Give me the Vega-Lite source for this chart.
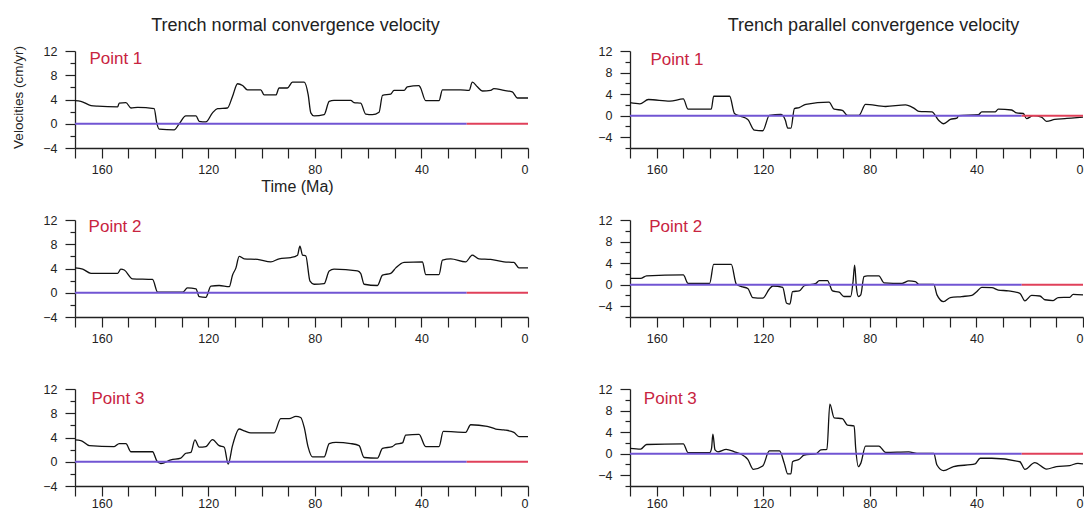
{
  "$schema": "https://vega.github.io/schema/vega-lite/v6.json",
  "background": "white",
  "padding": {"left": 11, "top": 17, "right": 0, "bottom": 0},
  "autosize": {"type": "pad"},
  "config": {
    "font": "Liberation Sans",
    "view": {"stroke": null},
    "axis": {"grid": false, "domainColor": "#222", "tickColor": "#222", "domainWidth": 1.3, "tickWidth": 1.2, "labelColor": "#222", "labelFontSize": 12.5, "labelOverlap": false, "titleFontWeight": "normal", "titleColor": "#222", "tickCount": 40, "format": "d"},
    "title": {"fontSize": 18, "fontWeight": "normal", "color": "#222", "offset": 10}
  },
  "datasets": {
    "vel": [
      {"panel":"n1","t":170,"v":3.8},{"panel":"n1","t":167.8,"v":3.7},{"panel":"n1","t":164,"v":3.0},{"panel":"n1","t":161.5,"v":2.9},{"panel":"n1","t":154,"v":2.8},{"panel":"n1","t":153.4,"v":3.4},{"panel":"n1","t":150.9,"v":3.5},{"panel":"n1","t":149,"v":2.6},{"panel":"n1","t":146.5,"v":2.7},{"panel":"n1","t":140.3,"v":2.5},{"panel":"n1","t":139.3,"v":0.1},{"panel":"n1","t":138.4,"v":-0.9},{"panel":"n1","t":132.8,"v":-1.0},{"panel":"n1","t":130.9,"v":0},{"panel":"n1","t":128.4,"v":1.3},{"panel":"n1","t":124.6,"v":1.3},{"panel":"n1","t":123.4,"v":0.4},{"panel":"n1","t":120.9,"v":0.3},{"panel":"n1","t":118.4,"v":1.8},{"panel":"n1","t":116.5,"v":2.5},{"panel":"n1","t":112.8,"v":2.6},{"panel":"n1","t":110.9,"v":4.5},{"panel":"n1","t":109,"v":6.6},{"panel":"n1","t":107.1,"v":6.3},{"panel":"n1","t":105.3,"v":5.6},{"panel":"n1","t":100.3,"v":5.6},{"panel":"n1","t":99,"v":4.75},{"panel":"n1","t":94.6,"v":4.75},{"panel":"n1","t":93.4,"v":5.9},{"panel":"n1","t":90.3,"v":5.9},{"panel":"n1","t":88.4,"v":6.85},{"panel":"n1","t":84,"v":6.85},{"panel":"n1","t":82.5,"v":4.8},{"panel":"n1","t":81.5,"v":1.8},{"panel":"n1","t":80.3,"v":1.3},{"panel":"n1","t":76.5,"v":1.5},{"panel":"n1","t":74.6,"v":3.7},{"panel":"n1","t":72.8,"v":3.85},{"panel":"n1","t":66.5,"v":3.85},{"panel":"n1","t":65.3,"v":3.5},{"panel":"n1","t":62.8,"v":3.4},{"panel":"n1","t":60.9,"v":1.6},{"panel":"n1","t":58.4,"v":1.5},{"panel":"n1","t":55.9,"v":1.9},{"panel":"n1","t":54.6,"v":4.7},{"panel":"n1","t":51.5,"v":4.9},{"panel":"n1","t":50.3,"v":5.5},{"panel":"n1","t":46.5,"v":5.5},{"panel":"n1","t":45.3,"v":6.1},{"panel":"n1","t":40.9,"v":6.3},{"panel":"n1","t":40.3,"v":5.9},{"panel":"n1","t":38.4,"v":3.8},{"panel":"n1","t":33.4,"v":3.8},{"panel":"n1","t":32.1,"v":5.6},{"panel":"n1","t":25.3,"v":5.6},{"panel":"n1","t":22.1,"v":5.5},{"panel":"n1","t":20.9,"v":6.85},{"panel":"n1","t":19,"v":6.1},{"panel":"n1","t":17.1,"v":5.4},{"panel":"n1","t":14,"v":5.5},{"panel":"n1","t":12.8,"v":5.8},{"panel":"n1","t":9,"v":5.5},{"panel":"n1","t":5.9,"v":5.25},{"panel":"n1","t":4,"v":4.25},{"panel":"n1","t":0,"v":4.25},
      {"panel":"n2","t":170,"v":4.1},{"panel":"n2","t":167.1,"v":3.9},{"panel":"n2","t":164,"v":3.2},{"panel":"n2","t":154,"v":3.2},{"panel":"n2","t":152.8,"v":3.9},{"panel":"n2","t":151.5,"v":3.75},{"panel":"n2","t":148.4,"v":2.3},{"panel":"n2","t":140.9,"v":2.2},{"panel":"n2","t":139,"v":0.1},{"panel":"n2","t":129.6,"v":0.1},{"panel":"n2","t":127.8,"v":0.8},{"panel":"n2","t":124.6,"v":0.65},{"panel":"n2","t":123.4,"v":-0.65},{"panel":"n2","t":120.9,"v":-0.75},{"panel":"n2","t":119,"v":1.1},{"panel":"n2","t":115.9,"v":1.2},{"panel":"n2","t":112.1,"v":1.0},{"panel":"n2","t":110.9,"v":2.9},{"panel":"n2","t":109.6,"v":4.1},{"panel":"n2","t":108.4,"v":6.0},{"panel":"n2","t":106.5,"v":5.6},{"panel":"n2","t":101.5,"v":5.5},{"panel":"n2","t":96.5,"v":5.1},{"panel":"n2","t":93.4,"v":5.6},{"panel":"n2","t":89,"v":5.8},{"panel":"n2","t":86.5,"v":6.2},{"panel":"n2","t":85.6,"v":7.7},{"panel":"n2","t":84.6,"v":6.2},{"panel":"n2","t":83.4,"v":6.1},{"panel":"n2","t":81.8,"v":1.9},{"panel":"n2","t":80.3,"v":1.4},{"panel":"n2","t":76.5,"v":1.5},{"panel":"n2","t":74.6,"v":3.6},{"panel":"n2","t":72.8,"v":3.9},{"panel":"n2","t":64,"v":3.6},{"panel":"n2","t":62.8,"v":3.2},{"panel":"n2","t":61.5,"v":1.4},{"panel":"n2","t":56.5,"v":1.2},{"panel":"n2","t":54.6,"v":2.9},{"panel":"n2","t":51.5,"v":3.2},{"panel":"n2","t":49.6,"v":4.1},{"panel":"n2","t":46.5,"v":5.0},{"panel":"n2","t":39.6,"v":5.1},{"panel":"n2","t":38.4,"v":3.0},{"panel":"n2","t":33.4,"v":3.0},{"panel":"n2","t":32.1,"v":5.4},{"panel":"n2","t":29,"v":5.6},{"panel":"n2","t":23.4,"v":5.1},{"panel":"n2","t":20.9,"v":6.2},{"panel":"n2","t":18.4,"v":5.6},{"panel":"n2","t":14,"v":5.5},{"panel":"n2","t":9,"v":5.1},{"panel":"n2","t":5.3,"v":5.0},{"panel":"n2","t":3.4,"v":4.1},{"panel":"n2","t":0,"v":4.1},
      {"panel":"n3","t":170,"v":3.6},{"panel":"n3","t":167.8,"v":3.5},{"panel":"n3","t":164.6,"v":2.65},{"panel":"n3","t":155.3,"v":2.5},{"panel":"n3","t":153.4,"v":3.0},{"panel":"n3","t":150.9,"v":3.0},{"panel":"n3","t":149,"v":1.65},{"panel":"n3","t":140.9,"v":1.65},{"panel":"n3","t":139.3,"v":0.15},{"panel":"n3","t":137.8,"v":-0.3},{"panel":"n3","t":134,"v":0.3},{"panel":"n3","t":130.3,"v":0.6},{"panel":"n3","t":128.4,"v":1.4},{"panel":"n3","t":126.5,"v":1.55},{"panel":"n3","t":125,"v":3.6},{"panel":"n3","t":123.4,"v":2.4},{"panel":"n3","t":120.9,"v":2.5},{"panel":"n3","t":118.4,"v":3.65},{"panel":"n3","t":115.9,"v":2.65},{"panel":"n3","t":114,"v":2.4},{"panel":"n3","t":112.5,"v":-0.4},{"panel":"n3","t":110.9,"v":2.65},{"panel":"n3","t":108.4,"v":5.4},{"panel":"n3","t":106.5,"v":5.1},{"panel":"n3","t":104,"v":4.75},{"panel":"n3","t":95.3,"v":4.75},{"panel":"n3","t":92.8,"v":7.1},{"panel":"n3","t":89.6,"v":7.1},{"panel":"n3","t":87.1,"v":7.5},{"panel":"n3","t":85.3,"v":7.3},{"panel":"n3","t":84,"v":5.7},{"panel":"n3","t":82.5,"v":2.4},{"panel":"n3","t":80.9,"v":0.8},{"panel":"n3","t":76.5,"v":0.8},{"panel":"n3","t":74.6,"v":3.0},{"panel":"n3","t":72.1,"v":3.2},{"panel":"n3","t":66.5,"v":3.0},{"panel":"n3","t":63.4,"v":2.65},{"panel":"n3","t":61.5,"v":0.7},{"panel":"n3","t":56.5,"v":0.6},{"panel":"n3","t":54.6,"v":2.2},{"panel":"n3","t":50.9,"v":2.5},{"panel":"n3","t":49.6,"v":2.9},{"panel":"n3","t":47.1,"v":3.1},{"panel":"n3","t":45.9,"v":4.4},{"panel":"n3","t":40.9,"v":4.5},{"panel":"n3","t":38.4,"v":2.5},{"panel":"n3","t":33.4,"v":2.5},{"panel":"n3","t":31.8,"v":5.0},{"panel":"n3","t":23.4,"v":4.85},{"panel":"n3","t":21.5,"v":6.1},{"panel":"n3","t":15.3,"v":5.85},{"panel":"n3","t":12.1,"v":5.4},{"panel":"n3","t":9,"v":5.25},{"panel":"n3","t":5.3,"v":4.85},{"panel":"n3","t":3.4,"v":4.15},{"panel":"n3","t":0,"v":4.15},
      {"panel":"p1","t":170,"v":2.4},{"panel":"p1","t":166.3,"v":2.2},{"panel":"p1","t":163.1,"v":3.0},{"panel":"p1","t":155,"v":2.7},{"panel":"p1","t":150,"v":3.1},{"panel":"p1","t":148.2,"v":1.2},{"panel":"p1","t":139.5,"v":1.2},{"panel":"p1","t":138.6,"v":3.6},{"panel":"p1","t":132.6,"v":3.6},{"panel":"p1","t":130.8,"v":0.4},{"panel":"p1","t":128.9,"v":-0.05},{"panel":"p1","t":125.8,"v":-0.7},{"panel":"p1","t":123.3,"v":-2.7},{"panel":"p1","t":120.2,"v":-2.8},{"panel":"p1","t":117.7,"v":0.05},{"panel":"p1","t":113.3,"v":0.25},{"panel":"p1","t":111.7,"v":-0.85},{"panel":"p1","t":110.8,"v":-2.3},{"panel":"p1","t":109.6,"v":-2.3},{"panel":"p1","t":108.3,"v":1.3},{"panel":"p1","t":106.5,"v":1.5},{"panel":"p1","t":104,"v":2.1},{"panel":"p1","t":95.3,"v":2.5},{"panel":"p1","t":93.4,"v":1.2},{"panel":"p1","t":90.3,"v":1.0},{"panel":"p1","t":88.4,"v":0.05},{"panel":"p1","t":84.1,"v":0.05},{"panel":"p1","t":81.6,"v":2.1},{"panel":"p1","t":74.1,"v":1.7},{"panel":"p1","t":66.6,"v":2.0},{"panel":"p1","t":63.5,"v":1.4},{"panel":"p1","t":61.6,"v":0.8},{"panel":"p1","t":56.7,"v":0.7},{"panel":"p1","t":54.2,"v":-0.85},{"panel":"p1","t":52.3,"v":-1.5},{"panel":"p1","t":49.8,"v":-0.7},{"panel":"p1","t":47.3,"v":-0.45},{"panel":"p1","t":46.7,"v":0},{"panel":"p1","t":39.2,"v":0.2},{"panel":"p1","t":38,"v":0.7},{"panel":"p1","t":33,"v":0.7},{"panel":"p1","t":31.8,"v":1.2},{"panel":"p1","t":26.8,"v":1.05},{"panel":"p1","t":24.9,"v":0.5},{"panel":"p1","t":22.4,"v":0.4},{"panel":"p1","t":21.2,"v":-0.55},{"panel":"p1","t":18.7,"v":0},{"panel":"p1","t":15.6,"v":-0.25},{"panel":"p1","t":13.7,"v":-1.05},{"panel":"p1","t":10.6,"v":-0.7},{"panel":"p1","t":6.8,"v":-0.55},{"panel":"p1","t":4.4,"v":-0.45},{"panel":"p1","t":0,"v":-0.25},
      {"panel":"p2","t":170,"v":1.15},{"panel":"p2","t":166,"v":1.15},{"panel":"p2","t":163.8,"v":1.65},{"panel":"p2","t":150,"v":1.8},{"panel":"p2","t":148.2,"v":0.25},{"panel":"p2","t":140.1,"v":0.25},{"panel":"p2","t":138.6,"v":3.75},{"panel":"p2","t":132,"v":3.75},{"panel":"p2","t":130.1,"v":0.1},{"panel":"p2","t":128.2,"v":-0.35},{"panel":"p2","t":125.8,"v":-0.7},{"panel":"p2","t":123.9,"v":-2.4},{"panel":"p2","t":120.2,"v":-2.5},{"panel":"p2","t":117.7,"v":-0.8},{"panel":"p2","t":116.4,"v":-0.25},{"panel":"p2","t":112.7,"v":-0.5},{"panel":"p2","t":111.2,"v":-3.45},{"panel":"p2","t":110,"v":-3.6},{"panel":"p2","t":109,"v":-1.3},{"panel":"p2","t":106.5,"v":-1.15},{"panel":"p2","t":104.6,"v":-0.2},{"panel":"p2","t":100.2,"v":0.25},{"panel":"p2","t":99,"v":0.75},{"panel":"p2","t":95.9,"v":0.75},{"panel":"p2","t":94,"v":-1.15},{"panel":"p2","t":91.5,"v":-1.4},{"panel":"p2","t":89.7,"v":-2.2},{"panel":"p2","t":87.2,"v":-2.2},{"panel":"p2","t":86.3,"v":0.55},{"panel":"p2","t":85.7,"v":3.6},{"panel":"p2","t":85,"v":-0.7},{"panel":"p2","t":84.3,"v":-2.2},{"panel":"p2","t":83.4,"v":-1.9},{"panel":"p2","t":82.2,"v":1.5},{"panel":"p2","t":80.9,"v":1.65},{"panel":"p2","t":76.6,"v":1.65},{"panel":"p2","t":74.7,"v":0.35},{"panel":"p2","t":67.9,"v":0.25},{"panel":"p2","t":65.4,"v":0.7},{"panel":"p2","t":62.9,"v":0.55},{"panel":"p2","t":61.6,"v":0.05},{"panel":"p2","t":56,"v":0.05},{"panel":"p2","t":54.8,"v":-1.9},{"panel":"p2","t":52.3,"v":-3.15},{"panel":"p2","t":49.8,"v":-2.4},{"panel":"p2","t":45.5,"v":-2.2},{"panel":"p2","t":41.7,"v":-2.0},{"panel":"p2","t":39.9,"v":-1.3},{"panel":"p2","t":38,"v":-0.5},{"panel":"p2","t":34.2,"v":-0.55},{"panel":"p2","t":31.8,"v":-1.0},{"panel":"p2","t":28,"v":-1.15},{"panel":"p2","t":23.7,"v":-1.6},{"panel":"p2","t":21.8,"v":-3.0},{"panel":"p2","t":19.3,"v":-2.0},{"panel":"p2","t":16.2,"v":-2.1},{"panel":"p2","t":14.3,"v":-2.8},{"panel":"p2","t":11.2,"v":-2.95},{"panel":"p2","t":9.3,"v":-2.4},{"panel":"p2","t":5,"v":-2.35},{"panel":"p2","t":3.7,"v":-1.8},{"panel":"p2","t":0,"v":-1.9},
      {"panel":"p3","t":170,"v":1.0},{"panel":"p3","t":166,"v":0.85},{"panel":"p3","t":163.8,"v":1.7},{"panel":"p3","t":150,"v":1.8},{"panel":"p3","t":148.2,"v":0.2},{"panel":"p3","t":140.1,"v":0.2},{"panel":"p3","t":139.4,"v":1.0},{"panel":"p3","t":138.9,"v":3.6},{"panel":"p3","t":138.1,"v":0.7},{"panel":"p3","t":137,"v":0.35},{"panel":"p3","t":133.9,"v":0.8},{"panel":"p3","t":130.8,"v":0.35},{"panel":"p3","t":128.3,"v":-0.1},{"panel":"p3","t":125.8,"v":-1.05},{"panel":"p3","t":123.7,"v":-2.9},{"panel":"p3","t":120.2,"v":-2.3},{"panel":"p3","t":117.7,"v":0.5},{"panel":"p3","t":113.9,"v":0.5},{"panel":"p3","t":112.1,"v":-1.8},{"panel":"p3","t":110.8,"v":-3.75},{"panel":"p3","t":109.6,"v":-3.75},{"panel":"p3","t":109,"v":-1.5},{"panel":"p3","t":106.5,"v":-1.05},{"panel":"p3","t":104.6,"v":-0.25},{"panel":"p3","t":100.2,"v":-0.05},{"panel":"p3","t":98.4,"v":0.7},{"panel":"p3","t":96.1,"v":0.8},{"panel":"p3","t":95,"v":9.2},{"panel":"p3","t":93.4,"v":6.65},{"panel":"p3","t":90.3,"v":6.5},{"panel":"p3","t":88.4,"v":5.3},{"panel":"p3","t":85.9,"v":5.15},{"panel":"p3","t":85.3,"v":1.0},{"panel":"p3","t":84.3,"v":-2.4},{"panel":"p3","t":83.4,"v":-1.8},{"panel":"p3","t":81.6,"v":1.4},{"panel":"p3","t":76.6,"v":1.4},{"panel":"p3","t":74.1,"v":0.25},{"panel":"p3","t":65.4,"v":0.35},{"panel":"p3","t":62.3,"v":0.05},{"panel":"p3","t":56,"v":0.05},{"panel":"p3","t":54.8,"v":-2.1},{"panel":"p3","t":52.3,"v":-3.15},{"panel":"p3","t":48.6,"v":-2.4},{"panel":"p3","t":40.5,"v":-1.9},{"panel":"p3","t":38.6,"v":-0.85},{"panel":"p3","t":34.2,"v":-0.85},{"panel":"p3","t":23.7,"v":-1.5},{"panel":"p3","t":21.8,"v":-2.9},{"panel":"p3","t":18.1,"v":-1.65},{"panel":"p3","t":13.7,"v":-2.85},{"panel":"p3","t":10,"v":-2.4},{"panel":"p3","t":5,"v":-2.2},{"panel":"p3","t":1.9,"v":-1.8},{"panel":"p3","t":0,"v":-1.9}
    ],
    "zero": [
      {"seg": "older", "t0": 170, "t1": 23},
      {"seg": "recent", "t0": 23, "t1": 0}
    ],
    "labels": [
      {"panel": "n1", "label": "Point 1"}, {"panel": "n2", "label": "Point 2"}, {"panel": "n3", "label": "Point 3"},
      {"panel": "p1", "label": "Point 1"}, {"panel": "p2", "label": "Point 2"}, {"panel": "p3", "label": "Point 3"}
    ]
  },
  "spacing": 66,
  "hconcat": [
    {
      "spacing": 72, "bounds": "flush",
      "vconcat": [
        {
          "width": 453, "height": 97,
          "title": {"text": "Trench normal convergence velocity", "dx": -6},
          "layer": [
            {"data": {"name": "vel"}, "transform": [{"filter": "datum.panel === 'n1'"}],
             "mark": {"type": "line", "color": "#111", "strokeWidth": 1.3, "interpolate": "monotone"},
             "encoding": {
               "x": {"field": "t", "type": "quantitative", "scale": {"domain": [0, 170], "reverse": true, "nice": false, "zero": false},
                     "axis": {"title": "Time (Ma)", "titleFontSize": 16, "titlePadding": 3, "titleX": 222, "tickCount": 40, "format": "d", "labelOverlap": false, "values": [0,10,20,30,40,50,60,70,80,90,100,110,120,130,140,150,160,170], "labelExpr": "datum.value % 40 === 0 ? datum.label : ''", "tickSize": 10, "labelPadding": 5}},
               "y": {"field": "v", "type": "quantitative", "scale": {"domain": [-4, 12], "nice": false, "zero": false},
                     "axis": {"title": "Velocities (cm/yr)", "titleFontSize": 13.5, "titlePadding": 17, "titleY": 46, "tickCount": 40, "format": "d", "labelOverlap": false, "values": [-4,-2,0,2,4,6,8,10,12], "labelExpr": "datum.value % 4 === 0 ? datum.label : ''", "tickSize": {"condition": {"test": "datum.value % 4 === 0", "value": 10}, "value": 5}, "labelPadding": 8}}
             }},
            {"data": {"name": "zero"}, "mark": {"type": "rule", "strokeWidth": 2},
             "encoding": {"x": {"field": "t0", "type": "quantitative"}, "x2": {"field": "t1"}, "y": {"datum": 0, "type": "quantitative"},
                          "color": {"field": "seg", "type": "nominal", "scale": {"domain": ["older", "recent"], "range": ["#7155d3", "#e0405a"]}, "legend": null}}},
            {"data": {"name": "labels"}, "transform": [{"filter": "datum.panel === 'n1'"}],
             "mark": {"type": "text", "align": "left", "baseline": "middle", "fontSize": 17, "color": "#c8243f"},
             "encoding": {"x": {"datum": 164.6, "type": "quantitative"}, "y": {"datum": 10.6, "type": "quantitative"}, "text": {"field": "label"}}}
          ]
        },
        {
          "width": 453, "height": 97,
          "layer": [
            {"data": {"name": "vel"}, "transform": [{"filter": "datum.panel === 'n2'"}],
             "mark": {"type": "line", "color": "#111", "strokeWidth": 1.3, "interpolate": "monotone"},
             "encoding": {
               "x": {"field": "t", "type": "quantitative", "scale": {"domain": [0, 170], "reverse": true, "nice": false, "zero": false},
                     "axis": {"title": null, "tickCount": 40, "format": "d", "labelOverlap": false, "values": [0,10,20,30,40,50,60,70,80,90,100,110,120,130,140,150,160,170], "labelExpr": "datum.value % 40 === 0 ? datum.label : ''", "tickSize": 10, "labelPadding": 5}},
               "y": {"field": "v", "type": "quantitative", "scale": {"domain": [-4, 12], "nice": false, "zero": false},
                     "axis": {"title": null, "tickCount": 40, "format": "d", "labelOverlap": false, "values": [-4,-2,0,2,4,6,8,10,12], "labelExpr": "datum.value % 4 === 0 ? datum.label : ''", "tickSize": {"condition": {"test": "datum.value % 4 === 0", "value": 10}, "value": 5}, "labelPadding": 8}}
             }},
            {"data": {"name": "zero"}, "mark": {"type": "rule", "strokeWidth": 2},
             "encoding": {"x": {"field": "t0", "type": "quantitative"}, "x2": {"field": "t1"}, "y": {"datum": 0, "type": "quantitative"},
                          "color": {"field": "seg", "type": "nominal", "scale": {"domain": ["older", "recent"], "range": ["#7155d3", "#e0405a"]}, "legend": null}}},
            {"data": {"name": "labels"}, "transform": [{"filter": "datum.panel === 'n2'"}],
             "mark": {"type": "text", "align": "left", "baseline": "middle", "fontSize": 17, "color": "#c8243f"},
             "encoding": {"x": {"datum": 164.9, "type": "quantitative"}, "y": {"datum": 10.8, "type": "quantitative"}, "text": {"field": "label"}}}
          ]
        },
        {
          "width": 453, "height": 97,
          "layer": [
            {"data": {"name": "vel"}, "transform": [{"filter": "datum.panel === 'n3'"}],
             "mark": {"type": "line", "color": "#111", "strokeWidth": 1.3, "interpolate": "monotone"},
             "encoding": {
               "x": {"field": "t", "type": "quantitative", "scale": {"domain": [0, 170], "reverse": true, "nice": false, "zero": false},
                     "axis": {"title": null, "tickCount": 40, "format": "d", "labelOverlap": false, "values": [0,10,20,30,40,50,60,70,80,90,100,110,120,130,140,150,160,170], "labelExpr": "datum.value % 40 === 0 ? datum.label : ''", "tickSize": 10, "labelPadding": 1}},
               "y": {"field": "v", "type": "quantitative", "scale": {"domain": [-4, 12], "nice": false, "zero": false},
                     "axis": {"title": null, "tickCount": 40, "format": "d", "labelOverlap": false, "values": [-4,-2,0,2,4,6,8,10,12], "labelExpr": "datum.value % 4 === 0 ? datum.label : ''", "tickSize": {"condition": {"test": "datum.value % 4 === 0", "value": 10}, "value": 5}, "labelPadding": 8}}
             }},
            {"data": {"name": "zero"}, "mark": {"type": "rule", "strokeWidth": 2},
             "encoding": {"x": {"field": "t0", "type": "quantitative"}, "x2": {"field": "t1"}, "y": {"datum": 0, "type": "quantitative"},
                          "color": {"field": "seg", "type": "nominal", "scale": {"domain": ["older", "recent"], "range": ["#7155d3", "#e0405a"]}, "legend": null}}},
            {"data": {"name": "labels"}, "transform": [{"filter": "datum.panel === 'n3'"}],
             "mark": {"type": "text", "align": "left", "baseline": "middle", "fontSize": 17, "color": "#c8243f"},
             "encoding": {"x": {"datum": 163.8, "type": "quantitative"}, "y": {"datum": 10.3, "type": "quantitative"}, "text": {"field": "label"}}}
          ]
        }
      ]
    },
    {
      "spacing": 72, "bounds": "flush",
      "vconcat": [
        {
          "width": 453, "height": 97,
          "title": {"text": "Trench parallel convergence velocity", "dx": 17},
          "layer": [
            {"data": {"name": "vel"}, "transform": [{"filter": "datum.panel === 'p1'"}],
             "mark": {"type": "line", "color": "#111", "strokeWidth": 1.3, "interpolate": "monotone"},
             "encoding": {
               "x": {"field": "t", "type": "quantitative", "scale": {"domain": [0, 170], "reverse": true, "nice": false, "zero": false},
                     "axis": {"title": null, "tickCount": 40, "format": "d", "labelOverlap": false, "values": [0,10,20,30,40,50,60,70,80,90,100,110,120,130,140,150,160,170], "labelExpr": "datum.value % 40 === 0 ? datum.label : ''", "tickSize": 10, "labelPadding": 5, "labelFlush": true}},
               "y": {"field": "v", "type": "quantitative", "scale": {"domain": [-6, 12], "nice": false, "zero": false},
                     "axis": {"title": null, "tickCount": 40, "format": "d", "labelOverlap": false, "values": [-6,-4,-2,0,2,4,6,8,10,12], "labelExpr": "datum.value % 4 === 0 ? datum.label : ''", "tickSize": {"condition": {"test": "datum.value % 4 === 0", "value": 10}, "value": 5}, "labelPadding": 8}}
             }},
            {"data": {"name": "zero"}, "mark": {"type": "rule", "strokeWidth": 2},
             "encoding": {"x": {"field": "t0", "type": "quantitative"}, "x2": {"field": "t1"}, "y": {"datum": 0, "type": "quantitative"},
                          "color": {"field": "seg", "type": "nominal", "scale": {"domain": ["older", "recent"], "range": ["#6a55d8", "#e0405a"]}, "legend": null}}},
            {"data": {"name": "labels"}, "transform": [{"filter": "datum.panel === 'p1'"}],
             "mark": {"type": "text", "align": "left", "baseline": "middle", "fontSize": 17, "color": "#c8243f"},
             "encoding": {"x": {"datum": 162.3, "type": "quantitative"}, "y": {"datum": 10.4, "type": "quantitative"}, "text": {"field": "label"}}}
          ]
        },
        {
          "width": 453, "height": 97,
          "layer": [
            {"data": {"name": "vel"}, "transform": [{"filter": "datum.panel === 'p2'"}],
             "mark": {"type": "line", "color": "#111", "strokeWidth": 1.3, "interpolate": "monotone"},
             "encoding": {
               "x": {"field": "t", "type": "quantitative", "scale": {"domain": [0, 170], "reverse": true, "nice": false, "zero": false},
                     "axis": {"title": null, "tickCount": 40, "format": "d", "labelOverlap": false, "values": [0,10,20,30,40,50,60,70,80,90,100,110,120,130,140,150,160,170], "labelExpr": "datum.value % 40 === 0 ? datum.label : ''", "tickSize": 10, "labelPadding": 5, "labelFlush": true}},
               "y": {"field": "v", "type": "quantitative", "scale": {"domain": [-6, 12], "nice": false, "zero": false},
                     "axis": {"title": null, "tickCount": 40, "format": "d", "labelOverlap": false, "values": [-6,-4,-2,0,2,4,6,8,10,12], "labelExpr": "datum.value % 4 === 0 ? datum.label : ''", "tickSize": {"condition": {"test": "datum.value % 4 === 0", "value": 10}, "value": 5}, "labelPadding": 8}}
             }},
            {"data": {"name": "zero"}, "mark": {"type": "rule", "strokeWidth": 2},
             "encoding": {"x": {"field": "t0", "type": "quantitative"}, "x2": {"field": "t1"}, "y": {"datum": 0, "type": "quantitative"},
                          "color": {"field": "seg", "type": "nominal", "scale": {"domain": ["older", "recent"], "range": ["#6a55d8", "#e0405a"]}, "legend": null}}},
            {"data": {"name": "labels"}, "transform": [{"filter": "datum.panel === 'p2'"}],
             "mark": {"type": "text", "align": "left", "baseline": "middle", "fontSize": 17, "color": "#c8243f"},
             "encoding": {"x": {"datum": 162.8, "type": "quantitative"}, "y": {"datum": 10.7, "type": "quantitative"}, "text": {"field": "label"}}}
          ]
        },
        {
          "width": 453, "height": 97,
          "layer": [
            {"data": {"name": "vel"}, "transform": [{"filter": "datum.panel === 'p3'"}],
             "mark": {"type": "line", "color": "#111", "strokeWidth": 1.3, "interpolate": "monotone"},
             "encoding": {
               "x": {"field": "t", "type": "quantitative", "scale": {"domain": [0, 170], "reverse": true, "nice": false, "zero": false},
                     "axis": {"title": null, "tickCount": 40, "format": "d", "labelOverlap": false, "values": [0,10,20,30,40,50,60,70,80,90,100,110,120,130,140,150,160,170], "labelExpr": "datum.value % 40 === 0 ? datum.label : ''", "tickSize": 10, "labelPadding": 1, "labelFlush": true}},
               "y": {"field": "v", "type": "quantitative", "scale": {"domain": [-6, 12], "nice": false, "zero": false},
                     "axis": {"title": null, "tickCount": 40, "format": "d", "labelOverlap": false, "values": [-6,-4,-2,0,2,4,6,8,10,12], "labelExpr": "datum.value % 4 === 0 ? datum.label : ''", "tickSize": {"condition": {"test": "datum.value % 4 === 0", "value": 10}, "value": 5}, "labelPadding": 8}}
             }},
            {"data": {"name": "zero"}, "mark": {"type": "rule", "strokeWidth": 2},
             "encoding": {"x": {"field": "t0", "type": "quantitative"}, "x2": {"field": "t1"}, "y": {"datum": 0, "type": "quantitative"},
                          "color": {"field": "seg", "type": "nominal", "scale": {"domain": ["older", "recent"], "range": ["#6a55d8", "#e0405a"]}, "legend": null}}},
            {"data": {"name": "labels"}, "transform": [{"filter": "datum.panel === 'p3'"}],
             "mark": {"type": "text", "align": "left", "baseline": "middle", "fontSize": 17, "color": "#c8243f"},
             "encoding": {"x": {"datum": 164.8, "type": "quantitative"}, "y": {"datum": 10.1, "type": "quantitative"}, "text": {"field": "label"}}}
          ]
        }
      ]
    }
  ]
}
